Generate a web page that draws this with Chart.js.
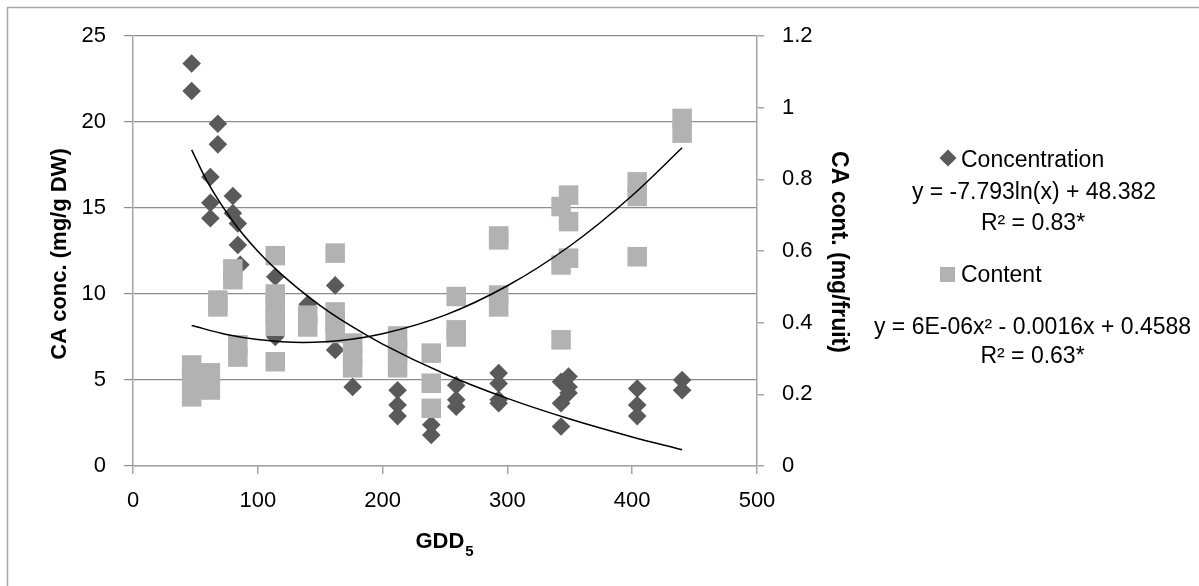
<!DOCTYPE html>
<html>
<head>
<meta charset="utf-8">
<script src="https://cdn.jsdelivr.net/npm/chart.js@4.4.0/dist/chart.umd.min.js"></script>
<style>
  body { margin: 0; background: #fff; }
  #wrap { width: 1199px; height: 586px; position: relative; }
</style>
</head>
<body>
<div id="wrap"><canvas id="chart" width="1199" height="586"></canvas></div>
<script>
'use strict';

// GDD5 values and CA concentration (mg/g DW)
const concX = [47, 47, 62, 62, 62, 68, 68, 80, 80, 84, 84, 86, 114, 114, 140, 162, 162, 176,
  212, 212, 212, 239, 239, 259, 259, 259, 293, 293, 293, 293, 343, 343, 343, 349, 349, 349,
  404, 404, 404, 440, 440];
const concY = [23.4, 21.8, 16.8, 15.3, 14.4, 19.9, 18.7, 15.7, 14.7, 14.1, 12.85, 11.7, 11.0, 7.5, 9.4, 10.5, 6.75, 4.6,
  4.4, 3.55, 2.9, 2.4, 1.8, 4.7, 3.85, 3.45, 5.4, 4.8, 3.85, 3.65, 4.9, 3.65, 2.3, 5.2, 4.6, 4.25,
  4.5, 3.55, 2.9, 5.0, 4.4];

// CA content (mg/fruit)
const contX = [47, 47, 47, 62, 62, 68, 68, 80, 80, 84, 84, 114, 114, 114, 114, 114, 114, 140, 140,
  162, 162, 162, 162, 176, 176, 176, 212, 212, 212, 239, 239, 239, 259, 259, 259, 293, 293, 293, 293,
  343, 343, 343, 349, 349, 349, 404, 404, 404, 440, 440];
const contY = [0.282, 0.24, 0.193, 0.26, 0.212, 0.463, 0.444, 0.55, 0.52, 0.338, 0.304, 0.587, 0.48, 0.45, 0.42, 0.39, 0.291, 0.421, 0.388,
  0.594, 0.43, 0.40, 0.37, 0.343, 0.307, 0.274, 0.363, 0.318, 0.274, 0.315, 0.231, 0.161, 0.473, 0.38, 0.36, 0.642, 0.631, 0.477, 0.444,
  0.724, 0.561, 0.352, 0.756, 0.682, 0.58, 0.793, 0.752, 0.584, 0.97, 0.929];

// trend lines as they run across the plot
const concTrendX = [47, 60, 80, 100, 125, 150, 175, 200, 250, 300, 350, 400, 440];
const concTrendY = [18.38, 16.47, 14.23, 12.49, 10.76, 9.33, 8.13, 7.09, 5.35, 3.93, 2.73, 1.69, 0.95];
const contTrendX = [47, 75, 100, 136, 175, 200, 250, 300, 350, 400, 440];
const contTrendY = [0.392, 0.367, 0.353, 0.345, 0.354, 0.369, 0.421, 0.503, 0.614, 0.755, 0.888];

const xTicks = [0, 100, 200, 300, 400, 500];
const yTicks = [0, 5, 10, 15, 20, 25];
const y2Ticks = [0, 0.2, 0.4, 0.6, 0.8, 1, 1.2];

const legendText = {
  conc: 'Concentration',
  concEq: 'y = -7.793ln(x) + 48.382',
  concR2: 'R\u00b2 = 0.83*',
  cont: 'Content',
  contEq: 'y = 6E-06x\u00b2 - 0.0016x + 0.4588',
  contR2: 'R\u00b2 = 0.63*'
};

function pts(xs, ys) {
  let out = [];
  for (let i = 0; i < xs.length; i++) {
    out.push({ x: xs[i], y: ys[i] });
  }
  return out;
}

const FONT = '"Liberation Sans", Arial, sans-serif';
const DIAMOND = '#5a5a5a';
const SQUARE = '#b2b2b2';

// titles, legend and the outer frame
const extras = {
  id: 'extras',
  afterDraw(chart) {
    const c = chart.ctx;
    const area = chart.chartArea;
    const midY = (area.top + area.bottom) / 2;
    c.save();

    // frame (only left and top edge show)
    c.strokeStyle = '#a6a6a6';
    c.lineWidth = 1.5;
    c.beginPath();
    c.moveTo(7.5, 586);
    c.lineTo(7.5, 7.5);
    c.lineTo(1199, 7.5);
    c.stroke();

    c.fillStyle = '#000';
    c.font = 'bold 22px ' + FONT;
    c.textAlign = 'center';
    c.textBaseline = 'middle';

    c.save();
    c.translate(60, midY + 3);
    c.rotate(-Math.PI / 2);
    c.fillText('CA conc. (mg/g DW)', 0, 0);
    c.restore();

    c.save();
    c.font = 'bold 23px ' + FONT;
    c.translate(838, midY + 1);
    c.rotate(Math.PI / 2);
    c.fillText('CA cont. (mg/fruit)', 0, 0);
    c.restore();

    // GDD with subscript 5
    c.textAlign = 'left';
    c.textBaseline = 'alphabetic';
    const w1 = c.measureText('GDD').width;
    c.font = 'bold 15px ' + FONT;
    const w2 = c.measureText('5').width;
    const gx = 444 - (w1 + w2) / 2;
    c.font = 'bold 22px ' + FONT;
    c.fillText('GDD', gx, 548);
    c.font = 'bold 15px ' + FONT;
    c.fillText('5', gx + w1 + 1, 556);

    // legend
    c.fillStyle = DIAMOND;
    c.beginPath();
    c.moveTo(948, 158 - 8.5);
    c.lineTo(948 + 8.5, 158);
    c.lineTo(948, 158 + 8.5);
    c.lineTo(948 - 8.5, 158);
    c.closePath();
    c.fill();
    c.fillStyle = SQUARE;
    c.fillRect(940, 267, 15, 15);

    c.fillStyle = '#000';
    c.font = '23px ' + FONT;
    c.textAlign = 'left';
    c.fillText(legendText.conc, 961, 166.5);
    c.fillText(legendText.cont, 961, 281.5);
    c.textAlign = 'center';
    c.fillText(legendText.concEq, 1034, 198.5);
    c.fillText(legendText.concR2, 1033, 230);
    c.fillText(legendText.contEq, 1032.5, 333.5);
    c.fillText(legendText.contR2, 1032.5, 362.5);

    c.restore();
  }
};

const ctx = document.getElementById('chart');

new Chart(ctx, {
  type: 'scatter',
  data: {
    datasets: [
      {
        label: 'Concentration trend',
        data: pts(concTrendX, concTrendY),
        yAxisID: 'y',
        showLine: true,
        borderColor: '#000',
        borderWidth: 1.5,
        pointRadius: 0,
        cubicInterpolationMode: 'monotone',
        order: 0
      },
      {
        label: 'Content trend',
        data: pts(contTrendX, contTrendY),
        yAxisID: 'y2',
        showLine: true,
        borderColor: '#000',
        borderWidth: 1.5,
        pointRadius: 0,
        cubicInterpolationMode: 'monotone',
        order: 0
      },
      {
        label: legendText.cont,
        data: pts(contX, contY),
        yAxisID: 'y2',
        pointStyle: 'rect',
        pointRadius: 13.8,
        backgroundColor: SQUARE,
        borderColor: SQUARE,
        borderWidth: 0,
        order: 1
      },
      {
        label: legendText.conc,
        data: pts(concX, concY),
        yAxisID: 'y',
        pointStyle: 'rectRot',
        pointRadius: 9.3,
        backgroundColor: DIAMOND,
        borderColor: DIAMOND,
        borderWidth: 0,
        order: 2
      }
    ]
  },
  options: {
    responsive: false,
    animation: false,
    events: [],
    layout: { padding: { top: 36, left: 0, right: 0, bottom: 0 } },
    plugins: {
      legend: { display: false },
      tooltip: { enabled: false }
    },
    scales: {
      x: {
        type: 'linear',
        min: xTicks[0],
        max: xTicks[xTicks.length - 1],
        afterBuildTicks: s => { s.ticks = xTicks.map(v => ({ value: v })); },
        ticks: { color: '#000', font: { family: FONT, size: 22 }, padding: 14, maxRotation: 0 },
        grid: { drawOnChartArea: false, tickLength: 8, color: '#a6a6a6', lineWidth: 1.5 },
        border: { color: '#a6a6a6', width: 1.5 },
        afterFit: s => { s.height = 120; }
      },
      y: {
        position: 'left',
        min: yTicks[0],
        max: yTicks[yTicks.length - 1],
        afterBuildTicks: s => { s.ticks = yTicks.map(v => ({ value: v })); },
        ticks: { color: '#000', font: { family: FONT, size: 22 }, padding: 18 },
        grid: { color: '#8c8c8c', tickLength: 9, lineWidth: 1.2 },
        border: { color: '#a6a6a6', width: 1.5 },
        afterFit: s => { s.width = 133; }
      },
      y2: {
        position: 'right',
        min: y2Ticks[0],
        max: y2Ticks[y2Ticks.length - 1],
        afterBuildTicks: s => { s.ticks = y2Ticks.map(v => ({ value: v })); },
        ticks: {
          color: '#000',
          font: { family: FONT, size: 22 },
          padding: 18,
          callback: v => String(+v.toFixed(1))
        },
        grid: { drawOnChartArea: false, tickLength: 7, color: '#a6a6a6', lineWidth: 1.5 },
        border: { color: '#a6a6a6', width: 1.5 },
        afterFit: s => { s.width = 442; }
      }
    }
  },
  plugins: [extras]
});
</script>
</body>
</html>
